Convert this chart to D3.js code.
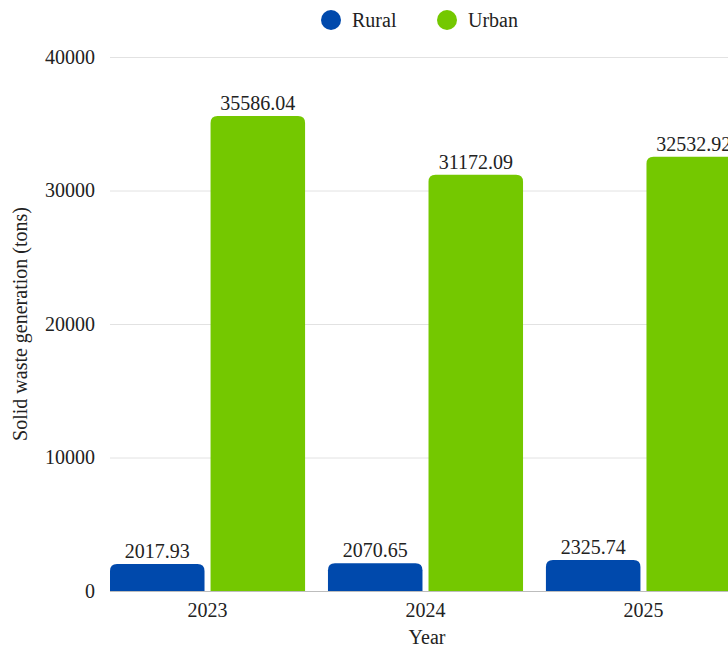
<html>
<script src="https://d3js.org/d3.v7.min.js"></script>
<style>
  body { margin: 0; background: #fff; }
  text { font-family: "Liberation Serif", "Times New Roman", serif; fill: #222; }
</style>
<body>
<svg class="chart" width="728" height="649"></svg>
<script>
const years = ['2023', '2024', '2025'];
const seriesNames = ['Rural', 'Urban'];
const rural = [2017.93, 2070.65, 2325.74];
const urban = [35586.04, 31172.09, 32532.92];
const yTicks = [0, 10000, 20000, 30000, 40000];
const colors = {'Rural': '#0049ac', 'Urban': '#74c800'};

const svg = d3.select('svg');
const plotTop = 57, plotBottom = 591, plotLeft = 110;

const x = d3.scaleBand()
  .domain(years)
  .range([plotLeft, 741])
  .paddingInner(0.105)
  .paddingOuter(0);
const x1 = d3.scaleBand()
  .domain(seriesNames)
  .range([0, x.bandwidth()])
  .paddingInner(0.06);
const y = d3.scaleLinear()
  .domain([0, 40000])
  .range([plotBottom, plotTop]);

// grid
svg.append('g')
  .selectAll('line')
  .data(yTicks)
  .enter()
  .append('line')
    .attr('x1', plotLeft)
    .attr('x2', 728)
    .attr('y1', d => y(d) + 0.5)
    .attr('y2', d => y(d) + 0.5)
    .attr('stroke', d => d == 0 ? '#bdbdbd' : '#e2e2e2');

// y axis labels
svg.append('g')
  .attr('transform', 'translate(' + (plotLeft - 15) + ',0)')
  .call(d3.axisLeft(y).tickValues(yTicks).tickSize(0).tickPadding(0).tickFormat(d3.format('d')))
  .call(g => g.select('.domain').remove())
  .selectAll('text')
    .style('font-size', '20px')
    .attr('fill', '#222');

// x axis labels
svg.append('g')
  .attr('transform', 'translate(0,' + plotBottom + ')')
  .call(d3.axisBottom(x).tickSize(0).tickPadding(12))
  .call(g => g.select('.domain').remove())
  .selectAll('text')
    .style('font-size', '20px')
    .attr('fill', '#222');

const rows = [];
years.forEach((yr, i) => {
  rows.push({year: yr, series: 'Rural', value: rural[i]});
  rows.push({year: yr, series: 'Urban', value: urban[i]});
});

function barPath(x0, w, yTop, yBot, r) {
  r = Math.min(r, w / 2, yBot - yTop);
  return 'M' + x0 + ',' + yBot +
    'V' + (yTop + r) +
    'Q' + x0 + ',' + yTop + ' ' + (x0 + r) + ',' + yTop +
    'H' + (x0 + w - r) +
    'Q' + (x0 + w) + ',' + yTop + ' ' + (x0 + w) + ',' + (yTop + r) +
    'V' + yBot + 'Z';
}

svg.append('g')
  .selectAll('path')
  .data(rows)
  .enter()
  .append('path')
    .attr('d', d => barPath(x(d.year) + x1(d.series), x1.bandwidth(), y(d.value), y(0), 7))
    .attr('fill', d => colors[d.series]);

svg.append('g')
  .selectAll('text')
  .data(rows)
  .enter()
  .append('text')
    .attr('x', d => x(d.year) + x1(d.series) + x1.bandwidth() / 2)
    .attr('y', d => y(d.value) - 6)
    .attr('text-anchor', 'middle')
    .style('font-size', '20px')
    .text(d => d.value.toFixed(2));

// axis titles
svg.append('text')
  .attr('x', 427)
  .attr('y', 644)
  .attr('text-anchor', 'middle')
  .style('font-size', '20px')
  .text('Year');
svg.append('text')
  .attr('transform', 'translate(27,324) rotate(-90)')
  .attr('text-anchor', 'middle')
  .style('font-size', '20px')
  .text('Solid waste generation (tons)');

// legend
const legend = svg.append('g')
  .selectAll('g')
  .data(seriesNames)
  .enter()
  .append('g')
    .attr('transform', (d, i) => 'translate(' + (331 + i * 116) + ',20)');
legend.append('circle')
  .attr('r', 10)
  .attr('fill', d => colors[d]);
legend.append('text')
  .attr('x', 21)
  .attr('y', 7)
  .style('font-size', '20px')
  .text(d => d);
</script>
</body>
</html>
